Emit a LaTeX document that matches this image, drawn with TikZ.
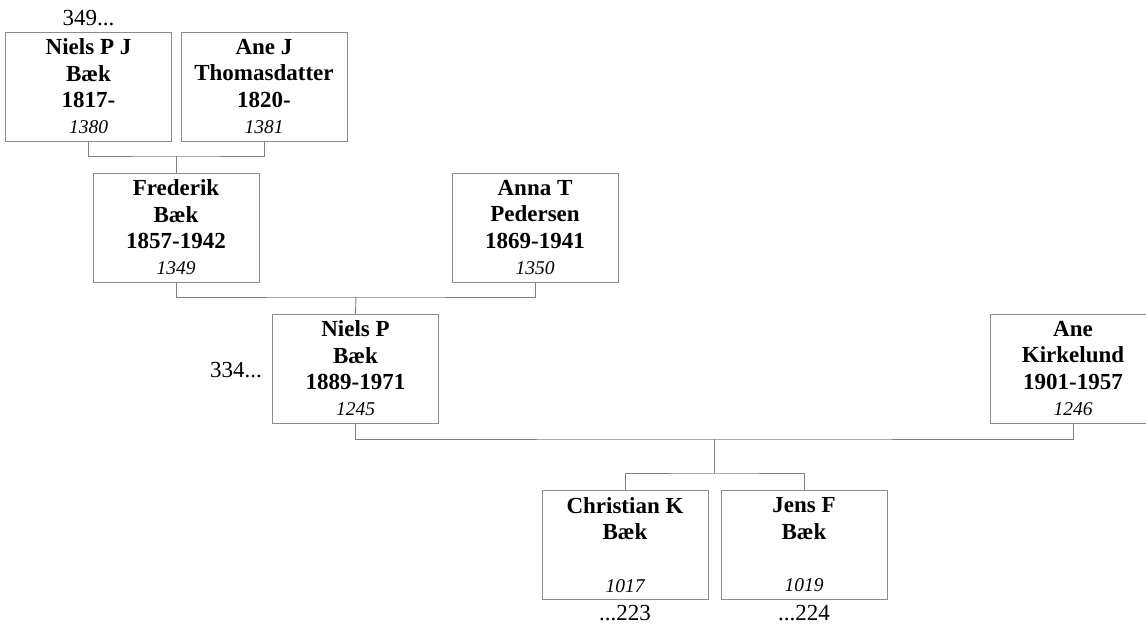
\documentclass[tikz,border=0pt]{standalone}
\usepackage{fontspec}
\setmainfont{Liberation Serif}
\usetikzlibrary{positioning}
\tikzset{
    person/.style = {rectangle, draw=black!45, line width=0.9pt, fill=white,
        minimum width=166pt, minimum height=109pt, inner sep=0pt,
        align=center, font=\fontsize{23}{26.3}\selectfont\bfseries},
    link/.style = {draw=black!50, line width=0.9pt},
    more/.style = {inner sep=0pt, font=\fontsize{23}{26}\selectfont}
}
\newcommand{\pid}[1]{{\fontsize{19.5}{26.3}\selectfont\mdseries\itshape #1}}

\begin{document}
\begin{tikzpicture}[x=1pt, y=-1pt]
    \useasboundingbox (0,0) rectangle (1146,624);

    % Grandparents
    \node[person] (p1380) at (88.5,86.5) {Niels P J\\Bæk\\1817-\\\pid{1380}};
    \node[person] (p1381) at (264,86.5) {Ane J\\Thomasdatter\\1820-\\\pid{1381}};

    % Parents
    \node[person] (p1349) at (176,227.5) {Frederik\\Bæk\\1857-1942\\\pid{1349}};
    \node[person] (p1350) at (535,227.5) {Anna T\\Pedersen\\1869-1941\\\pid{1350}};

    % Couple
    \node[person] (p1245) at (355.5,368.5) {Niels P\\Bæk\\1889-1971\\\pid{1245}};
    \node[person] (p1246) at (1073,368.5) {Ane\\Kirkelund\\1901-1957\\\pid{1246}};

    % Children
    \node[person] (p1017) at (625,545) {Christian K\\Bæk\\\mbox{}\\\pid{1017}};
    \node[person] (p1019) at (804,545) {Jens F\\Bæk\\\mbox{}\\\pid{1019}};

    % Continuation marks
    \node[more, above=6pt of p1380] (up349) {349...};
    \node[more, left=10pt of p1245, yshift=-1.5pt] (up334) {334...};
    \node[more, below=5pt of p1017] (dn223) {...223};
    \node[more, below=5pt of p1019] (dn224) {...224};

    % Family lines
    \coordinate (m1) at (176,156);
    \coordinate (m2) at (356,297);
    \coordinate (m3) at (714,439);
    \coordinate (kids) at (714,473);
    \draw[link] (p1380.south) |- (m1) -| (p1381.south);
    \draw[link] (m1) -- (p1349.north);
    \draw[link] (p1349.south) |- (m2) -| (p1350.south);
    \draw[link] (m2) -- (p1245.north);
    \draw[link] (p1245.south) |- (m3) -| (p1246.south);
    \draw[link] (m3) -- (kids);
    \draw[link] (p1017.north) |- (kids) -| (p1019.north);
\end{tikzpicture}
\end{document}
